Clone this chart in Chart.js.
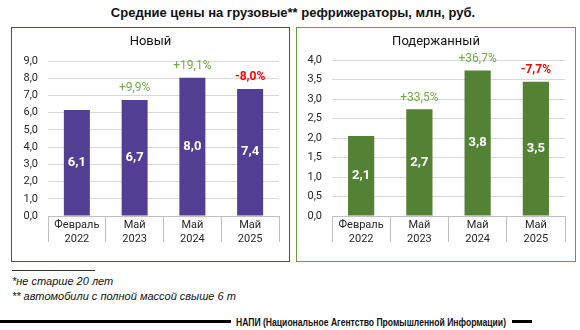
<!DOCTYPE html>
<html>
<head>
<meta charset="utf-8">
<script src="https://cdn.jsdelivr.net/npm/chart.js@4/dist/chart.umd.min.js"></script>
<style>
  html, body { margin: 0; padding: 0; background: #ffffff; }
  body { width: 580px; height: 330px; position: relative; overflow: hidden; font-family: Roboto, "Liberation Sans", sans-serif; }
  #title { position: absolute; left: 0; top: 5px; width: 586px; text-align: center; font: bold 13px "Liberation Sans", Arial, sans-serif; color: #111; }
  .box { position: absolute; top: 27px; height: 233px; border: 1px solid; }
  #boxNew { left: 11px; width: 277px; border-color: #4f4685; }
  #boxUsed { left: 296px; width: 278px; border-color: #6a9c3c; }
  .box canvas { position: absolute; left: 0; top: 0; }
  #fnLine { position: absolute; left: 12px; top: 270px; width: 83px; height: 0; border-top: 1px solid #333; }
  .fn { position: absolute; left: 12px; font: italic 11px "Liberation Sans", Arial, sans-serif; color: #111; white-space: nowrap; }
  #src { position: absolute; left: 236px; top: 316px; font: bold 11px "Liberation Sans", Arial, sans-serif; color: #111; white-space: nowrap; transform-origin: 0 0; }
  #lineL { position: absolute; left: 0; top: 320px; width: 231px; height: 3px; background: #000; }
  #lineR { position: absolute; left: 512px; top: 320px; width: 20px; height: 3px; background: #000; }
</style>
</head>
<body>
<div id="title">Средние цены на грузовые** рефрижераторы, млн, руб.</div>
<div class="box" id="boxNew"><canvas id="cNew" width="277" height="233"></canvas></div>
<div class="box" id="boxUsed"><canvas id="cUsed" width="278" height="233"></canvas></div>
<div id="fnLine"></div>
<div class="fn" style="top:275px">*не старше 20 лет</div>
<div class="fn" style="top:290px">** автомобили с полной массой свыше 6 т</div>
<div id="lineL"></div>
<div id="src">НАПИ (Национальное Агентство Промышленной Информации)</div>
<div id="lineR"></div>
<script>
// ---- data ----
const categories = [["Февраль", "2022"], ["Май", "2023"], ["Май", "2024"], ["Май", "2025"]];

const newTitle = "Новый";
const newValues = [6.15, 6.74, 8.03, 7.38];
const newValueLabels = ["6,1", "6,7", "8,0", "7,4"];
const newChangeLabels = ["", "+9,9%", "+19,1%", "-8,0%"];
const newAxisMax = 9;
const newAxisStep = 1;

const usedTitle = "Подержанный";
const usedValues = [2.05, 2.74, 3.73, 3.44];
const usedValueLabels = ["2,1", "2,7", "3,8", "3,5"];
const usedChangeLabels = ["", "+33,5%", "+36,7%", "-7,7%"];
const usedAxisMax = 4;
const usedAxisStep = 0.5;

// ---- source line: condense to the reference width ----
(function () {
  const el = document.getElementById('src');
  const w = el.getBoundingClientRect().width;
  if (w > 0) el.style.transform = 'scaleX(' + (270 / w) + ')';
})();

// ---- drawing ----
const FONT = "Roboto, 'Liberation Sans', sans-serif";

function labelPlugin(title, valueLabels, changeLabels) {
  return {
    id: 'labels',
    afterDatasetsDraw(chart) {
      const ctx = chart.ctx;
      const meta = chart.getDatasetMeta(0);
      ctx.save();
      ctx.textAlign = 'center';
      ctx.textBaseline = 'middle';
      meta.data.forEach((bar, i) => {
        const mid = (bar.y + bar.base) / 2;
        ctx.fillStyle = '#ffffff';
        ctx.font = "bold 13px " + FONT;
        ctx.fillText(valueLabels[i], bar.x, mid);
        const ch = changeLabels[i];
        if (ch) {
          const neg = ch.trim().startsWith('-');
          ctx.fillStyle = neg ? '#ff0000' : '#70ad47';
          ctx.font = (neg ? "bold " : "") + "12px " + FONT;
          ctx.fillText(ch, bar.x, bar.y - 11.5);
        }
      });
      ctx.fillStyle = '#111111';
      ctx.font = "13px " + FONT;
      ctx.fillText(title, chart.width / 2, 14);
      ctx.restore();
    }
  };
}

function makeChart(id, title, values, valueLabels, changeLabels, color, max, step, yWidth, topPad) {
  return new Chart(document.getElementById(id), {
    type: 'bar',
    data: {
      labels: categories,
      datasets: [{
        data: values,
        backgroundColor: color,
        borderWidth: 0,
        categoryPercentage: 1.0,
        barPercentage: 0.45
      }]
    },
    options: {
      responsive: false,
      animation: false,
      devicePixelRatio: 1,
      layout: { padding: { top: topPad, right: 10, left: 0, bottom: 0 } },
      plugins: { legend: { display: false }, tooltip: { enabled: false }, title: { display: false } },
      scales: {
        x: {
          grid: { display: true, drawOnChartArea: false, drawTicks: true, tickLength: 26, color: '#bfbfbf', offset: true },
          border: { display: true, color: '#bfbfbf' },
          ticks: { color: '#262626', font: { family: FONT, size: 11 }, padding: -23, maxRotation: 0, autoSkip: false },
          afterFit(s) { s.height = 45; }
        },
        y: {
          min: 0, max: max,
          grid: { color: '#d9d9d9', drawTicks: false },
          border: { display: false },
          ticks: {
            stepSize: step, padding: 10, color: '#262626',
            font: { family: FONT, size: 11 },
            callback: v => v.toFixed(1).replace('.', ',')
          },
          afterFit(s) { s.width = yWidth; }
        }
      }
    },
    plugins: [labelPlugin(title, valueLabels, changeLabels)]
  });
}

makeChart('cNew', newTitle, newValues, newValueLabels, newChangeLabels, '#523f93', newAxisMax, newAxisStep, 36, 33);
makeChart('cUsed', usedTitle, usedValues, usedValueLabels, usedChangeLabels, '#548235', usedAxisMax, usedAxisStep, 35, 32);
</script>
</body>
</html>
